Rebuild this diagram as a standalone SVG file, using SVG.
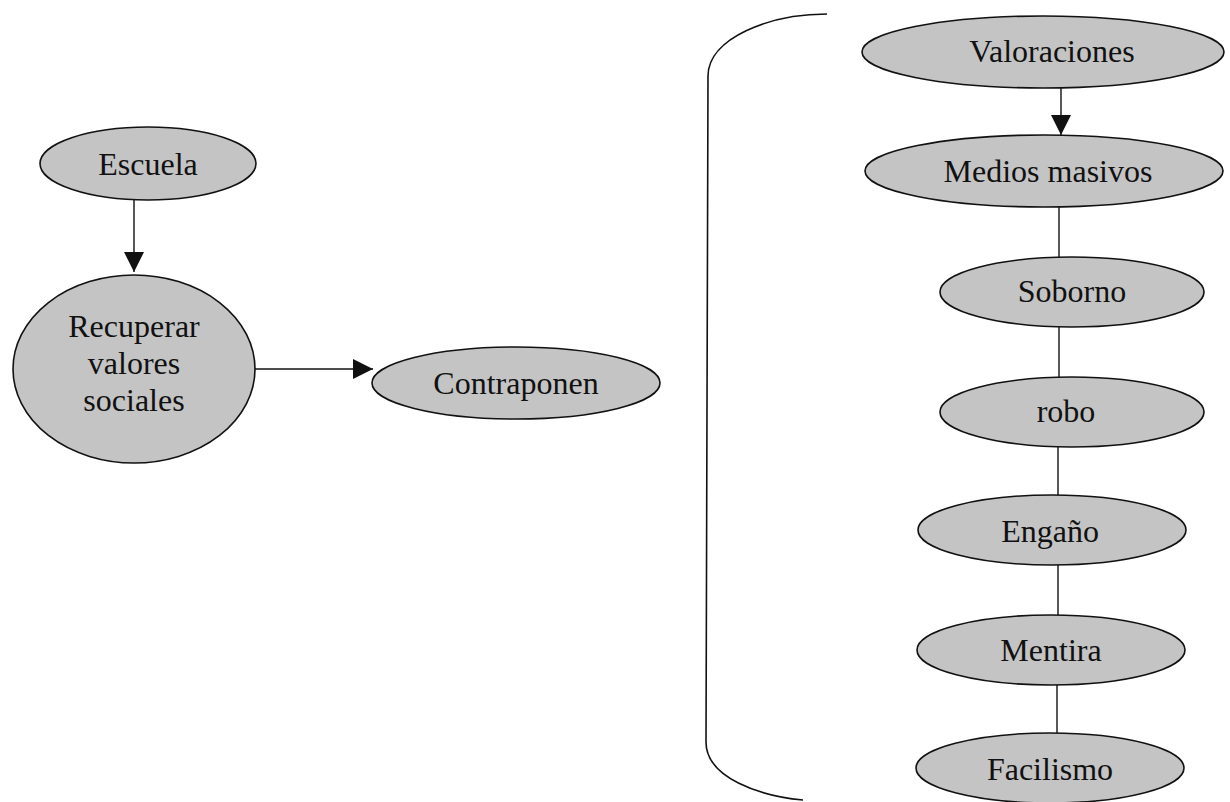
<svg xmlns="http://www.w3.org/2000/svg" width="1230" height="802" viewBox="0 0 1230 802">
<style>
.n ellipse{fill:#c4c4c4;stroke:#111;stroke-width:1.6}
.n text{font-family:"Liberation Serif","Times New Roman",serif;font-size:32px;fill:#111;text-anchor:middle}
.c line{stroke:#111;stroke-width:1.4}
.c path{fill:none;stroke:#111;stroke-width:1.6}
</style>
<defs>
<marker id="ah" markerUnits="userSpaceOnUse" markerWidth="20" markerHeight="20" viewBox="0 0 20 20" refX="20" refY="10" orient="auto">
<path d="M0,0 L20,10 L0,20 Z" fill="#111"/>
</marker>
</defs>
<rect width="1230" height="802" fill="#fff"/>
<g id="connectors" class="c">
<line x1="134" y1="200" x2="134" y2="272" marker-end="url(#ah)"/>
<line x1="255" y1="369" x2="373" y2="369" marker-end="url(#ah)"/>
<line x1="1061" y1="88" x2="1061" y2="135" marker-end="url(#ah)"/>
<line x1="1059" y1="207" x2="1059" y2="257"/>
<line x1="1059" y1="327" x2="1059" y2="377"/>
<line x1="1058" y1="447" x2="1058" y2="495"/>
<line x1="1058" y1="565" x2="1058" y2="615"/>
<line x1="1057" y1="685" x2="1057" y2="733"/>
<path id="bracket" d="M827,14 C770,14 708,38 708,76 L706,742 C706,778 760,796 803,800"/>
</g>
<g id="escuela" class="n"><ellipse cx="148" cy="163.5" rx="108" ry="36.5"/><text x="148" y="175">Escuela</text></g>
<g id="recuperar" class="n"><ellipse cx="134" cy="369" rx="121" ry="94"/><text x="134" y="337">Recuperar</text><text x="134" y="374">valores</text><text x="134" y="411">sociales</text></g>
<g id="contraponen" class="n"><ellipse cx="516" cy="383" rx="144" ry="36"/><text x="516" y="394">Contraponen</text></g>
<g id="valoraciones" class="n"><ellipse cx="1043" cy="52" rx="181" ry="36"/><text x="1052" y="62">Valoraciones</text></g>
<g id="medios" class="n"><ellipse cx="1044" cy="171" rx="179" ry="36"/><text x="1048" y="182">Medios masivos</text></g>
<g id="soborno" class="n"><ellipse cx="1072" cy="292" rx="132" ry="35"/><text x="1072" y="302">Soborno</text></g>
<g id="robo" class="n"><ellipse cx="1072" cy="412" rx="132" ry="35"/><text x="1066" y="422">robo</text></g>
<g id="engano" class="n"><ellipse cx="1052" cy="530" rx="134" ry="35"/><text x="1050" y="542">Engaño</text></g>
<g id="mentira" class="n"><ellipse cx="1051" cy="650" rx="134" ry="35"/><text x="1051" y="661">Mentira</text></g>
<g id="facilismo" class="n"><ellipse cx="1050" cy="768" rx="134" ry="35"/><text x="1050" y="780">Facilismo</text></g>
</svg>
